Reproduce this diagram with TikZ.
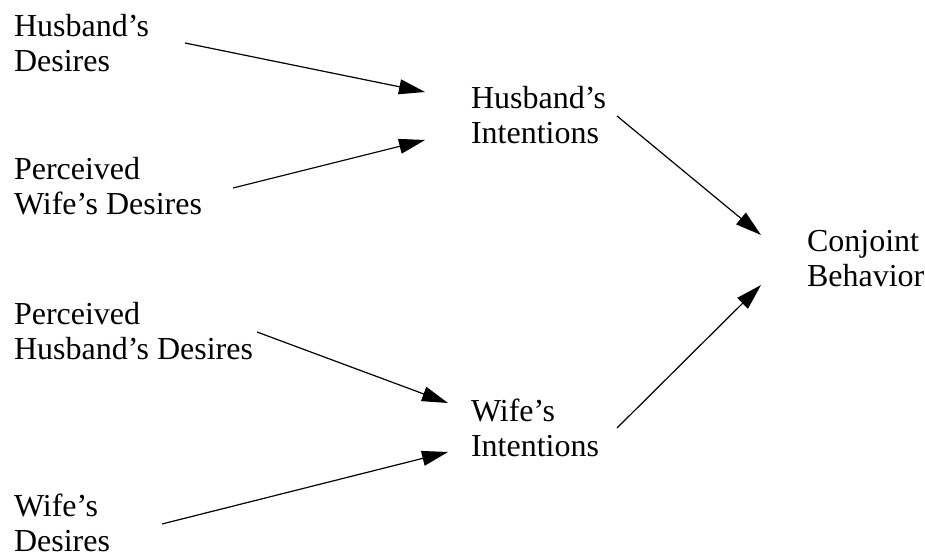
\documentclass[tikz,border=0pt]{standalone}
\usepackage{fontspec}
\setmainfont{Liberation Serif}
\usetikzlibrary{arrows.meta}
\tikzset{
  lbl/.style={anchor=base west, inner sep=0pt, outer sep=0pt, align=left,
    font=\fontsize{32pt}{35pt}\selectfont},
  arr/.style={line width=1.2pt, -{Triangle[length=26pt,width=15pt]}}
}
\begin{document}
\begin{tikzpicture}[x=1pt,y=1pt]
\useasboundingbox (0,0) rectangle (925,554);
\node[lbl] (HD)  at (14,482) {Husband’s\\Desires};
\node[lbl] (PWD) at (14,339) {Perceived\\Wife’s Desires};
\node[lbl] (PHD) at (14,194) {Perceived\\Husband’s Desires};
\node[lbl] (WD)  at (14,3)   {Wife’s\\Desires};
\node[lbl] (HI)  at (471,410) {Husband’s\\Intentions};
\node[lbl] (WI)  at (471,98)  {Wife’s\\Intentions};
\node[lbl] (CB)  at (807,267) {Conjoint\\Behavior};
\draw[arr] ([shift={(171pt,29pt)}]HD.base west) -- ([shift={(-46pt,52pt)}]HI.base west);
\draw[arr] ([shift={(219pt,27pt)}]PWD.base west) -- ([shift={(-46pt,4pt)}]HI.base west);
\draw[arr] ([shift={(146pt,28pt)}]HI.base west) -- ([shift={(-46pt,52pt)}]CB.base west);
\draw[arr] ([shift={(243pt,28pt)}]PHD.base west) -- ([shift={(-23pt,53pt)}]WI.base west);
\draw[arr] ([shift={(148pt,27pt)}]WD.base west) -- ([shift={(-23pt,4pt)}]WI.base west);
\draw[arr] ([shift={(146pt,28pt)}]WI.base west) -- ([shift={(-46pt,2pt)}]CB.base west);
\end{tikzpicture}
\end{document}
